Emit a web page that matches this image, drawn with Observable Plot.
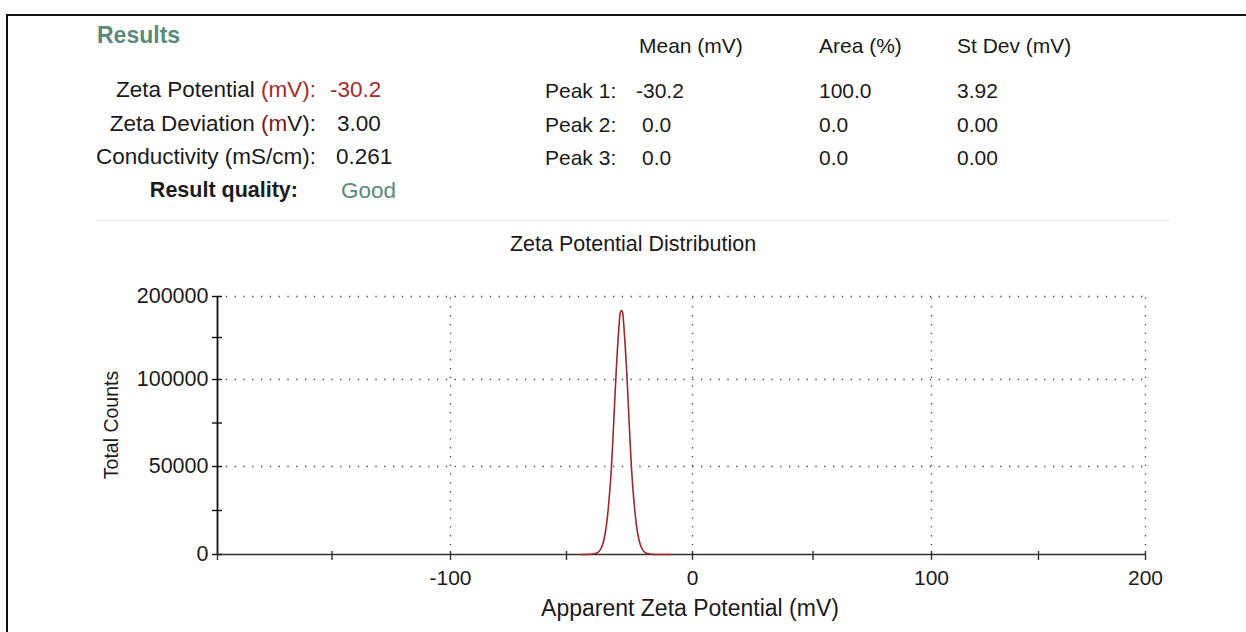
<!DOCTYPE html>
<html>
<head>
<meta charset="utf-8">
<script src="https://cdn.jsdelivr.net/npm/d3@7"></script>
<script src="https://cdn.jsdelivr.net/npm/@observablehq/plot@0.6"></script>
<style>
  html, body { margin: 0; padding: 0; background: #fff; }
  #page { position: relative; width: 1246px; height: 632px; overflow: hidden; font-family: "Liberation Sans", Arial, sans-serif; color: #1a1a1a; }
  .t { position: absolute; white-space: nowrap; line-height: 1; }
  .r { text-align: right; }
  .red { color: #a52a2a; }
  .dred { color: #7a1a1a; }
  .green { color: #5b8a7b; }
  #border { position: absolute; left: 6px; top: 14px; right: -10px; bottom: -10px; border-top: 2px solid #111; border-left: 2px solid #111; }
  #sep { position: absolute; left: 95px; top: 220px; width: 1075px; height: 1px; background: #ececec; }
  #chart { position: absolute; left: 0; top: 0; }
</style>
</head>
<body>
<div id="page">
  <div id="border"></div>
  <div id="sep"></div>
  <div id="chart"></div>
</div>
<script>
// ---- data ----
const resultLabels = ["Zeta Potential", "Zeta Deviation", "Conductivity (mS/cm):"];
const resultValues = ["-30.2", "3.00", "0.261"];
const qualityLabel = "Result quality:";
const qualityValue = "Good";
const peakHeaders = ["Mean (mV)", "Area (%)", "St Dev (mV)"];
const peakNames = ["Peak 1:", "Peak 2:", "Peak 3:"];
const peakMean = ["-30.2", "0.0", "0.0"];
const peakArea = ["100.0", "0.0", "0.0"];
const peakStDev = ["3.92", "0.00", "0.00"];

const chartTitle = "Zeta Potential Distribution";
const xLabel = "Apparent Zeta Potential (mV)";
const yLabel = "Total Counts";

const xTickLabels = [-100, 0, 100, 200];
const xMinorTicks = [-200, -150, -100, -50, 0, 50, 100, 150, 200];
const yTickLabels = [0, 50000, 100000, 200000];
const yMinorTicks = [0, 25000, 50000, 75000, 100000, 150000, 200000];
const xGridValues = [-100, 0, 100, 200];
const yGridValues = [50000, 100000, 200000];

// distribution curve (mV, total counts)
const zeta = [-44.4, -42.2, -40.2, -38.2, -37.2, -36.2, -35.2, -34.2, -33.2, -32.2, -31.7, -31.2, -30.7, -30.2, -29.7, -29.2, -28.7, -28.2,
              -27.7, -27.2, -26.7, -26.2, -25.7, -25.2, -24.7, -24.2, -23.2, -22.2, -21.2, -20.2, -19.2, -18.2, -16.2, -14.2, -8.7];
const counts = [0, 30, 150, 700, 1600, 3700, 8100, 16100, 29600, 48900, 62300, 77300, 92600, 114000, 140000, 162500, 180000, 183000,
                180000, 162500, 140000, 114000, 92600, 77300, 62300, 48900, 29600, 16100, 8100, 3700, 1600, 700, 150, 30, 0];

const curve = zeta.map((z, i) => ({zeta: z, counts: counts[i]}));

// ---- header (HTML text) ----
const page = document.getElementById("page");
function addText(html, style, cls = "t") {
  const d = document.createElement("div");
  d.className = cls;
  d.innerHTML = html;
  Object.assign(d.style, style);
  page.appendChild(d);
  return d;
}
const F = "21px", FL = "22.5px";
addText("Results", {left: "97px", top: "24px", fontSize: "23px", fontWeight: "bold"}, "t green");
const rowY = [90, 124, 157, 191];
const rowTop = (i, h = 11) => (rowY[i] - h) + "px";
const labelRight = (1246 - 316) + "px";
addText(`${resultLabels[0]} <span class="red">(mV):</span>`, {right: labelRight, top: rowTop(0), fontSize: FL}, "t r");
addText(`<span class="red">${resultValues[0]}</span>`, {left: "330px", top: rowTop(0), fontSize: FL});
addText(`${resultLabels[1]} <span class="dred">(m</span>V):`, {right: labelRight, top: rowTop(1), fontSize: FL}, "t r");
addText(resultValues[1], {left: "337px", top: rowTop(1), fontSize: FL});
addText(resultLabels[2], {right: labelRight, top: rowTop(2), fontSize: FL}, "t r");
addText(resultValues[2], {left: "336px", top: rowTop(2), fontSize: FL});
addText(qualityLabel, {right: (1246 - 298) + "px", top: rowTop(3), fontSize: "21.5px", fontWeight: "bold"}, "t r");
addText(qualityValue, {left: "341px", top: rowTop(3), fontSize: FL}, "t green");

const colX = [639, 819, 957];
peakHeaders.forEach((h, i) => addText(h, {left: colX[i] + "px", top: "35px", fontSize: F}));
peakNames.forEach((p, i) => {
  addText(p, {left: "545px", top: rowTop(i, 10), fontSize: F});
  addText(peakMean[i], {left: (peakMean[i].startsWith("-") ? 636 : 642) + "px", top: rowTop(i, 10), fontSize: F});
  addText(peakArea[i], {left: colX[1] + "px", top: rowTop(i, 10), fontSize: F});
  addText(peakStDev[i], {left: colX[2] + "px", top: rowTop(i, 10), fontSize: F});
});
addText(chartTitle, {left: "633px", top: "234px", fontSize: "21.5px", transform: "translateX(-50%)"});
addText(xLabel, {left: "690px", top: "597px", fontSize: "23px", transform: "translateX(-50%)"});
addText(yLabel, {left: "112px", top: "425px", fontSize: "19.5px", transform: "translate(-50%,-50%) rotate(-90deg)"});

// ---- chart ----
// The reference's axes are not evenly spaced; a scale transform reproduces
// where its tick values fall (pixel positions of the ticks).
const xTickPx = [217, 331.5, 450, 566, 692, 812.5, 931, 1038, 1145];
const yTickPx = [554, 466, 379, 337, 296];
const yBreaks = [0, 50000, 100000, 150000, 200000];
const xWarp = d3.scaleLinear().domain(xMinorTicks).range(xTickPx.map(p => -200 + (p - 217) / (1145 - 217) * 400));
const yWarp = d3.scaleLinear().domain(yBreaks).range(yTickPx.map(p => (554 - p) / (554 - 296) * 200000));

const gridStyle = {stroke: "#444", strokeWidth: 1.3, strokeDasharray: "1.3,7.5"};
const chart = Plot.plot({
  width: 1246,
  height: 632,
  marginLeft: 217, marginRight: 101, marginTop: 296, marginBottom: 78,
  style: {fontFamily: "Liberation Sans, Arial, sans-serif", fontSize: "21px", color: "#1a1a1a", background: "transparent"},
  x: {type: "linear", domain: [-200, 200], transform: xWarp, label: null, axis: null},
  y: {type: "linear", domain: [0, 200000], transform: yWarp, label: null, axis: null},
  marks: [
    Plot.ruleY(yGridValues, {x1: -200, x2: 200, ...gridStyle}),
    Plot.ruleX(xGridValues, {y1: 0, y2: 200000, ...gridStyle}),
    Plot.ruleY([0], {x1: -200, x2: 200, stroke: "#333", strokeWidth: 1.6}),
    Plot.ruleX([-200], {y1: 0, y2: 200000, stroke: "#111", strokeWidth: 1.8}),
    Plot.ruleY(yMinorTicks, {x1: -200, x2: -200, insetLeft: -5, insetRight: -5, stroke: "#111", strokeWidth: 1.4}),
    Plot.ruleX(xMinorTicks, {y1: 0, y2: 0, insetTop: -3, insetBottom: -6, stroke: "#333", strokeWidth: 1.4}),
    Plot.line(curve, {x: "zeta", y: "counts", curve: "monotone-x", stroke: "#9b2a2a", strokeWidth: 1.6}),
    // tick labels (text marks so they follow the scale transform)
    Plot.text(xTickLabels, {x: d => d, y: 0, dy: 24, text: d => String(d), fontSize: 21, fill: "#1a1a1a"}),
    Plot.text(yTickLabels, {x: -200, y: d => d, dx: -9, textAnchor: "end", text: d => String(d), fontSize: 21.5, fill: "#1a1a1a"})
  ]
});
document.getElementById("chart").appendChild(chart);
</script>
</body>
</html>
